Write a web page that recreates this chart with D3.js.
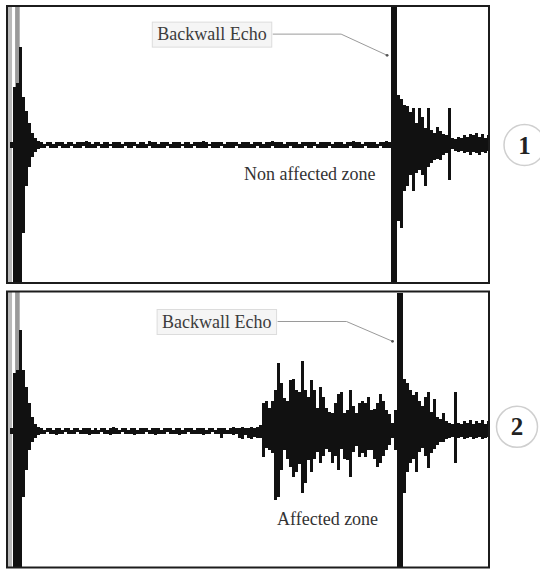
<!DOCTYPE html>
<html>
<head>
<meta charset="utf-8">
<script src="https://cdn.jsdelivr.net/npm/d3@7/dist/d3.min.js"></script>
<style>
  html, body { margin: 0; padding: 0; background: #fff; }
  svg { display: block; }
  text { font-family: "Liberation Serif", "DejaVu Serif", serif; }
</style>
</head>
<body>
<svg id="chart" width="540" height="569"></svg>
<script>
// A-scan traces: per time sample, the positive and negative peak amplitude
// (% of full screen height) of the received signal.

// Scan 1 - sound material
const scan1Hi = [
  0, 2, 42, 45, 71, 35, 25, 16, 9, 5, 3,
  2, 1, 2, 2, 1, 2, 2, 2, 1, 2,
  2, 1, 2, 2, 2, 3, 2, 1, 2, 2,
  1, 2, 2, 1, 2, 2, 2, 1, 2, 2,
  2, 2, 1, 2, 2, 1, 3, 2, 2, 1,
  2, 2, 2, 1, 2, 2, 2, 1, 2, 2,
  1, 2, 2, 2, 3, 2, 1, 2, 2, 2,
  2, 1, 2, 2, 2, 2, 1, 2, 2, 2,
  1, 2, 2, 2, 1, 2, 2, 3, 2, 2,
  2, 1, 2, 2, 2, 2, 1, 2, 2, 2,
  2, 2, 1, 2, 2, 2, 2, 1, 2, 2,
  2, 1, 2, 2, 3, 2, 2, 1, 2, 2,
  2, 2, 1, 2, 2, 3, 2,
  100, 100,
  36, 33, 29, 28, 24, 27, 16, 27, 20, 12,
  27, 11, 9, 13, 10, 8, 7, 27, 5, 4,
  6, 5, 7, 6, 8, 7, 9, 6, 8, 5, 7
];
const scan1Lo = [
  0, -2, -100, -100, -100, -64, -30, -16, -9, -5, -3,
  -2, -2, -1, -2, -2, -2, -1, -2, -2, -2,
  -1, -2, -2, -2, -1, -2, -2, -2, -2, -1,
  -2, -2, -2, -1, -2, -2, -2, -2, -1, -2,
  -2, -1, -2, -2, -2, -2, -1, -2, -2, -2,
  -2, -2, -1, -2, -2, -2, -2, -1, -2, -2,
  -2, -1, -2, -2, -2, -2, -1, -2, -2, -2,
  -1, -2, -2, -2, -2, -1, -2, -2, -2, -2,
  -2, -2, -1, -2, -2, -2, -2, -1, -2, -2,
  -2, -2, -2, -1, -2, -2, -2, -2, -1, -2,
  -2, -1, -2, -2, -2, -2, -1, -2, -2, -2,
  -2, -2, -2, -1, -2, -2, -2, -2, -1, -2,
  -2, -2, -2, -1, -2, -2, -2,
  -100, -100,
  -55, -60, -33, -30, -22, -33, -20, -18, -22, -30,
  -16, -13, -11, -10, -11, -7, -6, -25, -3, -4,
  -5, -4, -6, -5, -7, -5, -6, -7, -5, -6, -4
];

// Scan 2 - damaged material
const scan2Hi = [
  0, 2, 42, 44, 73, 44, 32, 20, 10, 5, 3,
  2, 1, 2, 2, 1, 2, 2, 1, 2, 2,
  1, 2, 2, 1, 2, 2, 2, 1, 2, 1,
  2, 2, 1, 2, 3, 2, 1, 2, 2, 1,
  2, 2, 1, 2, 2, 2, 1, 2, 2, 2,
  1, 2, 2, 2, 1, 2, 2, 1, 2, 2,
  2, 1, 2, 2, 2, 1, 2, 2, 1, 2,
  2, 2, 1, 2, 3, 2, 2, 3, 2, 2,
  3, 2, 3,
  4, 20, 22, 17, 22, 30, 49, 35, 24, 22,
  37, 38, 30, 28, 51, 30, 25, 37, 30, 17,
  32, 25, 17, 14, 13, 20, 27, 28, 13, 15,
  30, 18, 13, 20, 22, 20, 25, 15, 16, 20,
  27, 22, 15, 12, 6, 15,
  100, 100,
  38, 35, 30, 26, 28, 22, 18, 25, 28, 14,
  23, 10, 9, 13, 7, 6, 5, 28, 6, 5,
  7, 6, 8, 5, 7, 6, 8, 5, 7
];
const scan2Lo = [
  0, -2, -100, -100, -100, -48, -28, -14, -8, -5, -3,
  -2, -2, -1, -2, -2, -3, -2, -2, -1, -2,
  -2, -2, -1, -2, -2, -2, -3, -2, -2, -2,
  -1, -2, -2, -3, -2, -2, -2, -1, -2, -2,
  -2, -3, -2, -2, -2, -1, -2, -2, -3, -2,
  -2, -2, -1, -2, -2, -2, -3, -2, -2, -1,
  -2, -2, -2, -2, -3, -2, -2, -1, -2, -2,
  -5, -2, -2, -2, -3, -2, -5, -6, -3, -5,
  -6, -4, -5,
  -5, -19, -12, -14, -16, -50, -48, -28, -14, -20,
  -26, -33, -30, -24, -45, -38, -21, -30, -20, -15,
  -23, -18, -13, -15, -23, -18, -28, -13, -20, -21,
  -33, -15, -11, -19, -16, -19, -14, -14, -20, -26,
  -23, -18, -14, -10, -5, -14,
  -100, -100,
  -45, -30, -23, -20, -30, -15, -12, -18, -27, -16,
  -13, -10, -8, -8, -6, -5, -4, -23, -5, -4,
  -6, -5, -4, -6, -5, -4, -6, -5, -4
];

// Grey timing-gate markers near the initial pulse (sample positions)
const gateSamples = [0.45, 3];

// Annotation labels
const scanIds = ["1", "2"];
const echoLabel = "Backwall Echo";
const zoneLabels = ["Non affected zone", "Affected zone"];
// [sample, amplitude] where each echo leader line ends
const echoAnchors = [[126.2, 65], [128, 65]];

const svg = d3.select("#chart");

const x = d3.scaleLinear().domain([0, 160]).range([8.5, 488.5]);

const panels = [
  { hi: scan1Hi, lo: scan1Lo, frame: { x0: 7, y0: 6, x1: 489, y1: 283 },
    y: d3.scaleLinear().domain([-100, 100]).range([283, 7]),
    id: scanIds[0], zone: zoneLabels[0], anchor: echoAnchors[0],
    labelAt: [49.6, 76], zoneAt: [78.5, -25], idAt: [172, 0] },
  { hi: scan2Hi, lo: scan2Lo, frame: { x0: 7, y0: 291.5, x1: 489, y1: 567.5 },
    y: d3.scaleLinear().domain([-100, 100]).range([569, 293]),
    id: scanIds[1], zone: zoneLabels[1], anchor: echoAnchors[1],
    labelAt: [51.2, 75], zoneAt: [89.5, -68], idAt: [169.5, 3] }
];

panels.forEach((p, k) => {
  const g = svg.append("g");
  const f = p.frame;
  const clipId = "clip" + k;
  svg.append("clipPath").attr("id", clipId)
    .append("rect").attr("x", f.x0).attr("y", f.y0)
    .attr("width", f.x1 - f.x0).attr("height", f.y1 - f.y0);

  const plot = g.append("g").attr("clip-path", `url(#${clipId})`);

  // gate markers
  plot.selectAll("rect.gate").data(gateSamples).join("rect")
    .attr("class", "gate")
    .attr("x", d => x(d) - 2.4).attr("y", f.y0)
    .attr("width", 4.6).attr("height", f.y1 - f.y0)
    .attr("fill", (d, i) => i === 0 ? "#b9b9b9" : "#9a9a9a");

  // signal columns (min/max per sample)
  plot.selectAll("line.sig").data(d3.range(p.hi.length)).join("line")
    .attr("class", "sig")
    .attr("x1", i => x(i)).attr("x2", i => x(i))
    .attr("y1", i => p.y(p.lo[i])).attr("y2", i => p.y(p.hi[i]))
    .attr("stroke", "#111").attr("stroke-width", 3)
    .attr("shape-rendering", "crispEdges");

  // frame
  g.append("rect")
    .attr("x", f.x0).attr("y", f.y0)
    .attr("width", f.x1 - f.x0).attr("height", f.y1 - f.y0)
    .attr("fill", "none").attr("stroke", "#1c1c1c").attr("stroke-width", 2);

  // echo label with box and leader
  const lbl = g.append("text")
    .attr("x", x(p.labelAt[0])).attr("y", p.y(p.labelAt[1]))
    .attr("font-size", 18).attr("fill", "#3c3c3c")
    .text(echoLabel);
  const bb = lbl.node().getBBox();
  g.insert("rect", "text")
    .attr("x", bb.x - 5).attr("y", bb.y - 2)
    .attr("width", bb.width + 10).attr("height", bb.height + 5)
    .attr("fill", "#f5f5f5").attr("stroke", "#dcdcdc").attr("stroke-width", 1);
  lbl.raise();
  const ax = x(p.anchor[0]), ay = p.y(p.anchor[1]);
  const ly = bb.y + bb.height / 2;
  g.append("polyline")
    .attr("points", [[bb.x + bb.width + 6, ly], [ax - 46, ly], [ax, ay]].map(d => d.join(",")).join(" "))
    .attr("fill", "none").attr("stroke", "#9a9a9a").attr("stroke-width", 1);
  g.append("circle").attr("cx", ax).attr("cy", ay).attr("r", 1.4).attr("fill", "#555");

  // zone label
  g.append("text")
    .attr("x", x(p.zoneAt[0])).attr("y", p.y(p.zoneAt[1]))
    .attr("font-size", 18).attr("fill", "#333")
    .text(p.zone);

  // circled scan number
  const cx = x(p.idAt[0]), cy = p.y(p.idAt[1]);
  svg.append("circle").attr("cx", cx).attr("cy", cy).attr("r", 20.5)
    .attr("fill", "none").attr("stroke", "#cfcfcf").attr("stroke-width", 1.5);
  svg.append("text").attr("x", cx).attr("y", cy + 8.5)
    .attr("text-anchor", "middle").attr("font-size", 25).attr("font-weight", "bold")
    .attr("fill", "#222").text(p.id);
});
</script>
</body>
</html>
